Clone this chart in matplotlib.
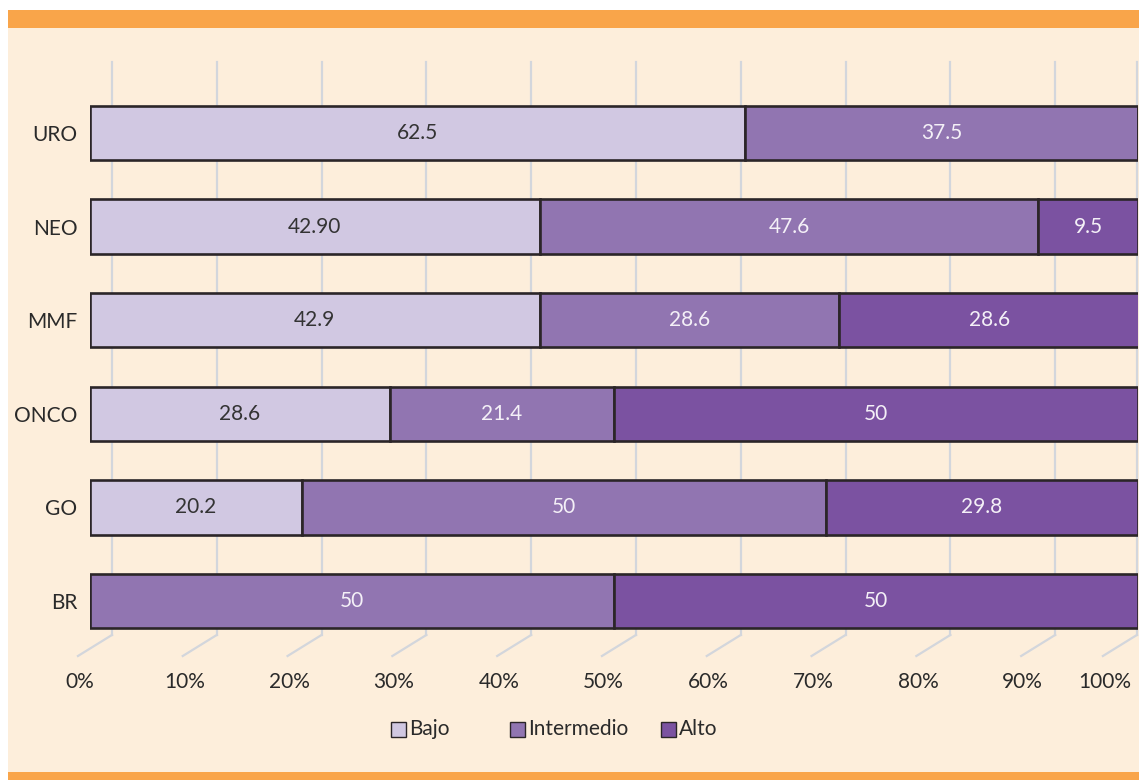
import matplotlib.pyplot as plt
from matplotlib.patches import Rectangle

plt.rcParams['font.family'] = ['Lato', 'DejaVu Sans']

categories = ['URO', 'NEO', 'MMF', 'ONCO', 'GO', 'BR']
bajo = [62.5, 42.9, 42.9, 28.6, 20.2, 0]
intermedio = [37.5, 47.6, 28.6, 21.4, 50, 50]
alto = [0, 9.5, 28.6, 50, 29.8, 50]
bajo_lbl = ['62.5', '42.90', '42.9', '28.6', '20.2', '']
inter_lbl = ['37.5', '47.6', '28.6', '21.4', '50', '50']
alto_lbl = ['', '9.5', '28.6', '50', '29.8', '50']
ticks = [0, 10, 20, 30, 40, 50, 60, 70, 80, 90, 100]
tick_lbl = ['%d%%' % t for t in ticks]

W, H = 1139, 780
fig = plt.figure(figsize=(W / 100, H / 100), dpi=100)
fig.patch.set_facecolor('white')

# panel background and orange bands
cream = '#FDEEDB'
orange = '#F9A54A'
fig.patches.append(Rectangle((8 / W, 0), 1, (H - 10) / H, transform=fig.transFigure,
                             facecolor=cream, edgecolor='none', zorder=-3))
fig.patches.append(Rectangle((8 / W, (H - 28) / H), 1, 18 / H, transform=fig.transFigure,
                             facecolor=orange, edgecolor='none', zorder=-2))
fig.patches.append(Rectangle((8 / W, 0), 1, 8 / H, transform=fig.transFigure,
                             facecolor=orange, edgecolor='none', zorder=-2))

top_px, bot_px = 62, 656
ax = fig.add_axes([90 / W, 1 - bot_px / H, 1048 / W, (bot_px - top_px) / H])
ax.set_facecolor('none')
ax.set_xlim(0, 100)
ax.set_ylim(5.588, -0.759)
for s in ax.spines.values():
    s.set_visible(False)

c_bajo, c_int, c_alto = '#D1C8E2', '#9175B1', '#7B52A1'
edge = '#2B2528'
y = list(range(len(categories)))
h = 0.58
fs = 15

# back wall gridlines with floor diagonals
grid_c = '#D3D6DC'
for t, lb in zip(ticks, tick_lbl):
    xb = min(t + 2.1, 99.9)
    ax.plot([xb, xb], [-0.759, 5.363], color=grid_c, lw=1.6, zorder=1, clip_on=False)
    ax.plot([xb, xb - 3.25], [5.363, 5.588], color=grid_c, lw=1.6, zorder=1, clip_on=False)
    ax.text(xb - 3.1, 5.865, lb, ha='center', va='center', fontsize=fs,
            color='#2a2a2a', clip_on=False)

left = [0] * len(y)
for vals, col, lbls, tc in [(bajo, c_bajo, bajo_lbl, '#333333'),
                            (intermedio, c_int, inter_lbl, '#F4F0F7'),
                            (alto, c_alto, alto_lbl, '#F4F0F7')]:
    ax.barh(y, vals, left=left, height=h, color=col, edgecolor=edge, linewidth=1.9, zorder=3)
    for i, v in enumerate(vals):
        if v > 0:
            ax.text(left[i] + v / 2, i, lbls[i], ha='center', va='center',
                    fontsize=fs, color=tc, zorder=4)
    left = [a + b for a, b in zip(left, vals)]

ax.set_yticks(y)
ax.set_yticklabels(categories, fontsize=fs, color='#2a2a2a')
ax.tick_params(axis='y', length=0, pad=9)
ax.set_xticks([])

# legend
leg_items = [('Bajo', c_bajo, 391), ('Intermedio', c_int, 510), ('Alto', c_alto, 661)]
for name, col, xp in leg_items:
    fig.patches.append(Rectangle((xp / W, 1 - 737 / H), 15 / W, 15 / H, transform=fig.transFigure,
                                 facecolor=col, edgecolor=edge, linewidth=1.0, zorder=5))
    fig.text((xp + 18) / W, 1 - 729 / H, name, ha='left', va='center', fontsize=fs,
             color='#2a2a2a')

fig.savefig('out.png', dpi=100, facecolor=fig.get_facecolor())
